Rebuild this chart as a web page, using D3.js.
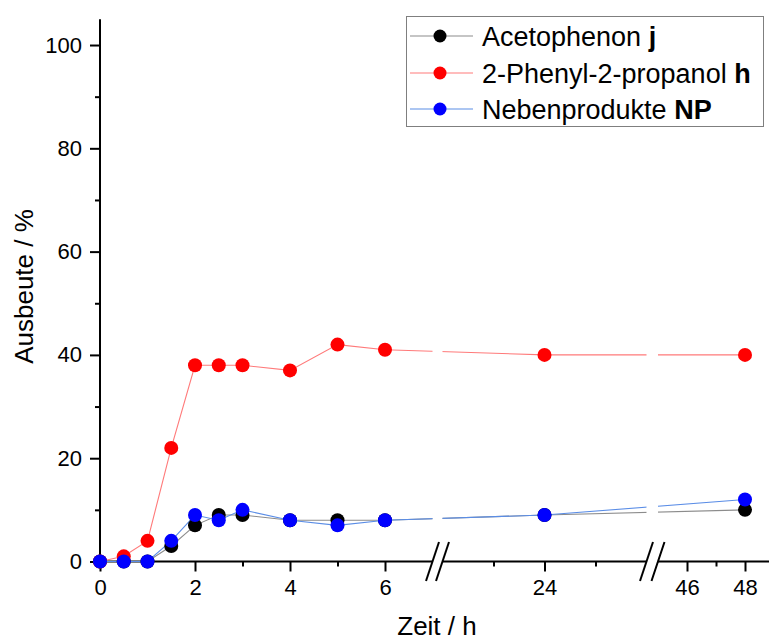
<!DOCTYPE html>
<html>
<head>
<meta charset="utf-8">
<script src="https://cdn.jsdelivr.net/npm/d3@7"></script>
<style>
  html, body { margin: 0; padding: 0; background: #fff; }
  svg { display: block; font-family: "Liberation Sans", Arial, sans-serif; }
</style>
</head>
<body>
<svg id="chart" width="769" height="642"></svg>
<script>
// ---- data ----
const times = [0, 0.5, 1, 1.5, 2, 2.5, 3, 4, 5, 6, 24, 48];
const acetophenon = [0, 0, 0, 3, 7, 9, 9, 8, 8, 8, 9, 10];
const phenylpropanol = [0, 1, 4, 22, 38, 38, 38, 37, 42, 41, 40, 40];
const nebenprodukte = [0, 0, 0, 4, 9, 8, 10, 8, 7, 8, 9, 12];

const seriesNames = ["Acetophenon", "2-Phenyl-2-propanol", "Nebenprodukte"];
const seriesBold = ["j", "h", "NP"];

const xMajorTicks = [0, 2, 4, 6, 24, 46, 48];
const xMinorTicks = [1, 3, 5, 23, 25, 47];
const yMajorTicks = [0, 20, 40, 60, 80, 100];
const yMinorTicks = [10, 30, 50, 70, 90];

// axis segments (broken x-axis): [start, end] in data units
const xSegments = [[0, 7], [22, 26], [45, 49]];

// ---- styles ----
const markerColors = ["#000000", "#ff0000", "#0000ff"];
const lineColors = ["#8c8c8c", "#ff7a7a", "#5a8de6"];

const svg = d3.select("#chart");

// polylinear x scale for the broken axis
const x = d3.scaleLinear()
  .domain([0, 7, 22, 26, 45, 49])
  .range([100, 432.5, 442.5, 646.5, 658, 774]);
const y = d3.scaleLinear().domain([0, 105]).range([561.5, 19.2]);

const y0 = y(0);

// clip path for data lines per segment
const defs = svg.append("defs");
const clip = defs.append("clipPath").attr("id", "segclip");
xSegments.forEach(s => {
  clip.append("rect")
    .attr("x", x(s[0])).attr("y", 0)
    .attr("width", x(s[1]) - x(s[0])).attr("height", 642);
});

// ---- axes ----
const xAxisMajor = d3.axisBottom(x).tickValues(xMajorTicks).tickSize(10).tickPadding(8)
  .tickFormat(d3.format("d"));
const gxM = svg.append("g").attr("transform", `translate(0,${y0})`).call(xAxisMajor);
gxM.select(".domain").remove();
gxM.selectAll(".tick line").attr("stroke", "#000").attr("stroke-width", 2);
gxM.selectAll(".tick text").attr("font-size", 22).attr("fill", "#000")
  .attr("font-family", "Liberation Sans, Arial, sans-serif");

const xAxisMinor = d3.axisBottom(x).tickValues(xMinorTicks).tickSize(5).tickFormat("");
const gxm = svg.append("g").attr("transform", `translate(0,${y0})`).call(xAxisMinor);
gxm.select(".domain").remove();
gxm.selectAll(".tick line").attr("stroke", "#000").attr("stroke-width", 2);

// x axis line segments
xSegments.forEach(s => {
  svg.append("line")
    .attr("x1", x(s[0]) - (s[0] === 0 ? 1 : 0)).attr("x2", x(s[1]))
    .attr("y1", y0).attr("y2", y0)
    .attr("stroke", "#000").attr("stroke-width", 2);
});
// break marks
const breakXs = [x(xSegments[0][1]), x(xSegments[1][0]), x(xSegments[1][1]), x(xSegments[2][0])];
breakXs.forEach(bx => {
  svg.append("line")
    .attr("x1", bx - 6.5).attr("y1", y0 + 19.5)
    .attr("x2", bx + 6.5).attr("y2", y0 - 19.5)
    .attr("stroke", "#000").attr("stroke-width", 2);
});

// y axis
const yAxisMajor = d3.axisLeft(y).tickValues(yMajorTicks).tickSize(10).tickPadding(8)
  .tickFormat(d3.format("d"));
const gyM = svg.append("g").attr("transform", `translate(100,0)`).call(yAxisMajor);
gyM.select(".domain").remove();
gyM.selectAll(".tick line").attr("stroke", "#000").attr("stroke-width", 2);
gyM.selectAll(".tick text").attr("font-size", 22).attr("fill", "#000")
  .attr("font-family", "Liberation Sans, Arial, sans-serif");

const yAxisMinor = d3.axisLeft(y).tickValues(yMinorTicks).tickSize(5).tickFormat("");
const gym = svg.append("g").attr("transform", `translate(100,0)`).call(yAxisMinor);
gym.select(".domain").remove();
gym.selectAll(".tick line").attr("stroke", "#000").attr("stroke-width", 2);

svg.append("line")
  .attr("x1", 100).attr("x2", 100)
  .attr("y1", y(105)).attr("y2", y0 + 1)
  .attr("stroke", "#000").attr("stroke-width", 2);

// axis titles
svg.append("text")
  .attr("x", 437).attr("y", 635)
  .attr("text-anchor", "middle")
  .attr("font-size", 26).attr("fill", "#000")
  .text("Zeit / h");
svg.append("text")
  .attr("transform", "translate(33,286.5) rotate(-90)")
  .attr("text-anchor", "middle")
  .attr("font-size", 26).attr("fill", "#000")
  .text("Ausbeute / %");

// ---- series ----
const allSeries = [acetophenon, phenylpropanol, nebenprodukte];
const line = d3.line().x(d => x(d[0])).y(d => y(d[1]));

allSeries.forEach((vals, i) => {
  const pts = times.map((t, k) => [t, vals[k]]);
  svg.append("path")
    .datum(pts)
    .attr("d", line)
    .attr("fill", "none")
    .attr("stroke", lineColors[i])
    .attr("stroke-width", 1.1)
    .attr("clip-path", "url(#segclip)");
});
allSeries.forEach((vals, i) => {
  const pts = times.map((t, k) => [t, vals[k]]);
  svg.append("g").selectAll("circle")
    .data(pts).join("circle")
    .attr("cx", d => x(d[0])).attr("cy", d => y(d[1]))
    .attr("r", 7)
    .attr("fill", markerColors[i]);
});

// ---- legend ----
const lg = svg.append("g");
lg.append("rect")
  .attr("x", 406.5).attr("y", 16.5).attr("width", 357).attr("height", 110)
  .attr("fill", "#fff").attr("stroke", "#7f7f7f").attr("stroke-width", 1);
const rowY = [36, 73, 109];
seriesNames.forEach((name, i) => {
  const ry = rowY[i];
  lg.append("line").attr("x1", 410).attr("x2", 473).attr("y1", ry).attr("y2", ry)
    .attr("stroke", lineColors[i]).attr("stroke-width", 1.1);
  lg.append("circle").attr("cx", 440).attr("cy", ry).attr("r", 6.5)
    .attr("fill", markerColors[i]);
  const t = lg.append("text").attr("x", 482).attr("y", ry + 9.5)
    .attr("font-size", 27).attr("fill", "#000");
  t.append("tspan").text(name + " ");
  t.append("tspan").attr("font-weight", "bold").text(seriesBold[i]);
});
</script>
</body>
</html>
